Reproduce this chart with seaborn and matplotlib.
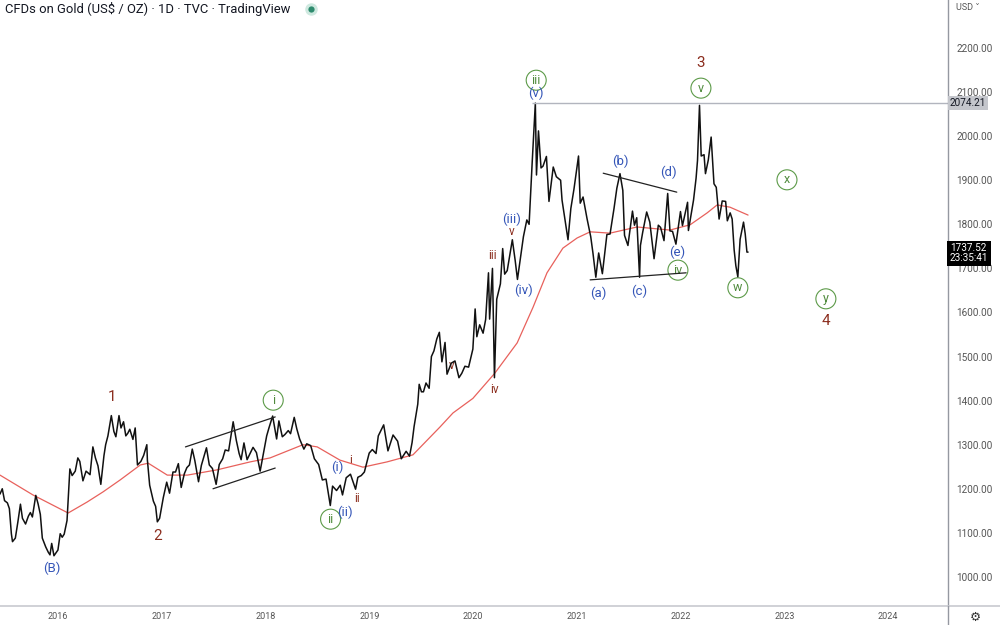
import matplotlib
matplotlib.use("Agg")
import matplotlib.pyplot as plt
from matplotlib.lines import Line2D
import pandas as pd
import seaborn as sns

# ---------------- data ----------------
price_dates = [
    "2015-06-10", "2015-06-18", "2015-06-26", "2015-07-06", "2015-07-13", "2015-07-20", "2015-07-24",
    "2015-08-03", "2015-08-12", "2015-08-21", "2015-08-28", "2015-09-08", "2015-09-18", "2015-09-25",
    "2015-10-02", "2015-10-14", "2015-10-22", "2015-10-30", "2015-11-06", "2015-11-18", "2015-11-27",
    "2015-12-03", "2015-12-09", "2015-12-17", "2015-12-31",
    "2016-01-08", "2016-01-15", "2016-01-22", "2016-02-01", "2016-02-11", "2016-02-19", "2016-03-01",
    "2016-03-10", "2016-03-17", "2016-03-28", "2016-04-08", "2016-04-22", "2016-05-02", "2016-05-11",
    "2016-05-20", "2016-05-30", "2016-06-10", "2016-06-16", "2016-06-24", "2016-07-06", "2016-07-15",
    "2016-07-22", "2016-08-02", "2016-08-09", "2016-08-18", "2016-08-26", "2016-09-02", "2016-09-09",
    "2016-09-20", "2016-09-28", "2016-10-06", "2016-10-18", "2016-10-28", "2016-11-08", "2016-11-10",
    "2016-11-18", "2016-12-01", "2016-12-09", "2016-12-15", "2016-12-23",
    "2017-01-05", "2017-01-17", "2017-01-27", "2017-02-08", "2017-02-17", "2017-02-27", "2017-03-09",
    "2017-03-20", "2017-03-29", "2017-04-07", "2017-04-17", "2017-04-26", "2017-05-09", "2017-05-19",
    "2017-06-06", "2017-06-16", "2017-06-27", "2017-07-10", "2017-07-21", "2017-08-02", "2017-08-11",
    "2017-08-23", "2017-09-01", "2017-09-08", "2017-09-19", "2017-09-29", "2017-10-06", "2017-10-16",
    "2017-10-27", "2017-11-08", "2017-11-17", "2017-11-29", "2017-12-12", "2017-12-22",
    "2018-01-04", "2018-01-12", "2018-01-25", "2018-02-08", "2018-02-16", "2018-02-28", "2018-03-09",
    "2018-03-21", "2018-03-29", "2018-04-11", "2018-04-20", "2018-04-30", "2018-05-15", "2018-05-25",
    "2018-06-08", "2018-06-21", "2018-07-06", "2018-07-19", "2018-08-01", "2018-08-16", "2018-08-24",
    "2018-09-07", "2018-09-20", "2018-09-28", "2018-10-11", "2018-10-26", "2018-11-13", "2018-11-21",
    "2018-12-03", "2018-12-14", "2018-12-31",
    "2019-01-11", "2019-01-24", "2019-02-01", "2019-02-20", "2019-03-07", "2019-03-25", "2019-04-10",
    "2019-04-23", "2019-05-10", "2019-05-22", "2019-05-31", "2019-06-07", "2019-06-20", "2019-06-25",
    "2019-07-03", "2019-07-10", "2019-07-19", "2019-07-30", "2019-08-07", "2019-08-16", "2019-08-26",
    "2019-09-04", "2019-09-13", "2019-09-24", "2019-10-01", "2019-10-16", "2019-10-29", "2019-11-12",
    "2019-11-22", "2019-12-03", "2019-12-16", "2019-12-31",
    "2020-01-08", "2020-01-14", "2020-01-24", "2020-02-05", "2020-02-14", "2020-02-24", "2020-02-28",
    "2020-03-09", "2020-03-16", "2020-03-24", "2020-04-06", "2020-04-14", "2020-04-21", "2020-04-30",
    "2020-05-18", "2020-05-28", "2020-06-05", "2020-06-16", "2020-06-26", "2020-07-08", "2020-07-16",
    "2020-07-27", "2020-08-06", "2020-08-07", "2020-08-11", "2020-08-18", "2020-08-27", "2020-09-03",
    "2020-09-15", "2020-09-24", "2020-10-09", "2020-10-20", "2020-11-04", "2020-11-09", "2020-11-30",
    "2020-12-10", "2020-12-21",
    "2021-01-06", "2021-01-12", "2021-01-22", "2021-02-05", "2021-02-18", "2021-02-26", "2021-03-08",
    "2021-03-18", "2021-03-31", "2021-04-16", "2021-04-27", "2021-05-11", "2021-05-21", "2021-06-01",
    "2021-06-11", "2021-06-17", "2021-06-29", "2021-07-15", "2021-07-22", "2021-07-30", "2021-08-09",
    "2021-08-12", "2021-08-20", "2021-09-03", "2021-09-14", "2021-09-29", "2021-10-14", "2021-10-22",
    "2021-11-03", "2021-11-16", "2021-11-24", "2021-12-03", "2021-12-15", "2021-12-31",
    "2022-01-07", "2022-01-14", "2022-01-25", "2022-01-28", "2022-02-09", "2022-02-15", "2022-02-24",
    "2022-03-01", "2022-03-08", "2022-03-14", "2022-03-24", "2022-03-29", "2022-04-08", "2022-04-18",
    "2022-04-28", "2022-05-06", "2022-05-16", "2022-05-27", "2022-06-08", "2022-06-14", "2022-06-24",
    "2022-07-01", "2022-07-08", "2022-07-14", "2022-07-21", "2022-07-29", "2022-08-10", "2022-08-16",
    "2022-08-22", "2022-08-26",
]
price_values = [
    1188, 1200, 1173, 1168, 1155, 1098, 1080,
    1088, 1125, 1165, 1133, 1120, 1138, 1146,
    1136, 1185, 1166, 1142, 1088, 1068, 1056,
    1050, 1076, 1048, 1061,
    1098, 1090, 1097, 1128, 1245, 1230, 1240,
    1270, 1262, 1218, 1240, 1232, 1295, 1270,
    1252, 1210, 1275, 1300, 1320, 1366, 1330,
    1318, 1366, 1338, 1352, 1320, 1326, 1335,
    1312, 1338, 1254, 1262, 1276, 1300, 1265,
    1208, 1172, 1160, 1125, 1133,
    1180, 1215, 1190, 1238, 1238, 1257, 1203,
    1234, 1248, 1254, 1290, 1264, 1216, 1253,
    1293, 1254, 1246, 1210, 1255, 1268, 1288,
    1286, 1324, 1352, 1310, 1280, 1266, 1304,
    1266, 1282, 1294, 1282, 1240, 1275,
    1320, 1338, 1365, 1313, 1354, 1318, 1323,
    1332, 1325, 1362, 1336, 1313, 1290, 1302,
    1298, 1268, 1255, 1220, 1222, 1162, 1206,
    1196, 1208, 1186, 1225, 1233, 1199, 1226,
    1230, 1238, 1281,
    1289, 1280, 1320, 1345, 1286, 1322, 1308,
    1268, 1285, 1274, 1305, 1341, 1392, 1437,
    1420, 1420, 1440, 1428, 1500, 1513, 1540,
    1555, 1488, 1532, 1460, 1485, 1490, 1452,
    1462, 1478, 1476, 1517,
    1608, 1545, 1572, 1553, 1584, 1690, 1585,
    1700, 1452, 1630, 1665, 1745, 1687, 1695,
    1765, 1718, 1675, 1726, 1772, 1810, 1800,
    1942, 2063, 2075, 1912, 2012, 1928, 1932,
    1954, 1852, 1930, 1908, 1900, 1855, 1765,
    1836, 1880,
    1955, 1848, 1862, 1813, 1772, 1734, 1680,
    1735, 1688, 1777, 1778, 1836, 1882, 1915,
    1877, 1775, 1752, 1830, 1798, 1815, 1680,
    1752, 1782, 1828, 1805, 1722, 1798, 1793,
    1763, 1870, 1785, 1784, 1755, 1829,
    1797, 1818, 1850, 1786, 1832, 1855, 1905,
    1945, 2070, 1955, 1958, 1915, 1946, 1998,
    1892, 1884, 1812, 1853, 1852, 1808, 1826,
    1812, 1742, 1706, 1681, 1766, 1805, 1778,
    1737, 1737,
]

ma_dates = [
    "2015-06-10", "2015-10-04", "2016-02-05", "2016-04-12", "2016-06-07", "2016-08-06", "2016-10-16",
    "2016-11-13", "2017-01-19", "2017-03-31", "2017-07-14", "2017-11-07", "2018-01-16", "2018-05-12",
    "2018-07-01", "2018-09-19", "2018-12-09", "2019-03-04", "2019-06-03", "2019-09-06", "2019-10-22",
    "2019-12-31", "2020-03-17", "2020-06-04", "2020-07-30", "2020-09-17", "2020-11-12", "2021-01-01",
    "2021-02-16", "2021-04-27", "2021-07-31", "2021-11-24", "2022-02-03", "2022-04-04", "2022-05-09",
    "2022-06-23", "2022-08-26",
]
ma_values = [
    1231, 1186, 1145, 1170, 1193, 1220, 1254,
    1258, 1231, 1231, 1243, 1261, 1270, 1300,
    1295, 1265, 1249, 1261, 1277, 1340, 1372,
    1405, 1462, 1531, 1612, 1690, 1746, 1769,
    1783, 1780, 1794, 1787, 1799, 1826, 1844,
    1839, 1821,
]

y_ticks = [1000, 1100, 1200, 1300, 1400, 1500, 1600, 1700, 1800, 1900, 2000, 2100, 2200]
x_tick_years = [2016, 2017, 2018, 2019, 2020, 2021, 2022, 2023, 2024]

last_high = 2074.21
last_high_date = "2020-08-07"
last_price = 1737.52
countdown = "23:35:41"

# wave labels: text, date, price, style
wave_text = ["(B)", "1", "2", "i", "ii", "(i)", "(ii)", "i", "ii", "iv", "iii", "v", "(iii)", "(iv)",
             "iii", "(v)", "3", "v", "(a)", "(b)", "(c)", "(d)", "(e)", "iv", "w", "x", "y", "4", "v"]
wave_date = ["2015-12-10", "2016-07-08", "2016-12-17", "2018-01-27", "2018-08-17", "2018-09-08",
             "2018-10-06", "2018-10-27", "2018-11-17", "2020-03-17", "2020-03-10", "2020-05-17",
             "2020-05-17", "2020-06-25", "2020-08-10", "2020-08-10", "2022-03-13", "2022-03-13",
             "2021-03-18", "2021-06-01", "2021-08-07", "2021-11-20", "2021-12-18", "2021-12-22",
             "2022-07-21", "2023-01-10", "2023-05-27", "2023-05-27", "2019-10-17"]
wave_price = [1020, 1408, 1093, 1401, 1131, 1249, 1147, 1265, 1177, 1426, 1730, 1784,
              1812, 1651, 2127, 2098, 2166, 2109, 1644, 1944, 1649, 1919, 1737, 1696,
              1656, 1901, 1631, 1581, 1480]
wave_style = ["blue", "redbig", "redbig", "circle", "circle", "blue", "blue", "red", "red", "red",
              "red", "red", "blue", "blue", "circle", "blue", "redbig", "circle", "blue", "blue",
              "blue", "blue", "blue", "circle", "circle", "circle", "circle", "redbig", "red"]

# trend lines: (start date, start price, end date, end price)
trend_start_dates = ["2017-03-24", "2017-06-29", "2021-04-03", "2021-02-16"]
trend_start_prices = [1295, 1200, 1916, 1674]
trend_end_dates = ["2018-02-03", "2018-02-03", "2021-12-18", "2022-01-20"]
trend_end_prices = [1363, 1247, 1873, 1690]

# ---------------- figure ----------------
sns.set_theme(style="white")
plt.rcParams["font.family"] = ["Roboto", "DejaVu Sans"]

fig = plt.figure(figsize=(10, 6.25), dpi=100)
ax = fig.add_axes([0.0, 19 / 625, 0.948, 606 / 625])

price_df = pd.DataFrame({"date": pd.to_datetime(price_dates), "price": price_values})
ma_df = pd.DataFrame({"date": pd.to_datetime(ma_dates), "ma": ma_values})

blue = "#3556b8"
red = "#8c2e1f"
green = "#4f8a3c"

# wave labels (drawn below the price line)
for t, d, p, s in zip(wave_text, wave_date, wave_price, wave_style):
    dd = pd.Timestamp(d)
    if s == "circle":
        ax.text(dd, p, t, color=green, fontsize=9, ha="center", va="center", zorder=1,
                bbox=dict(boxstyle="circle,pad=0.28", fc="white", ec="#5c9a48", lw=0.8))
    elif s == "blue":
        ax.text(dd, p, t, color=blue, fontsize=9.5, ha="center", va="center", zorder=1)
    elif s == "red":
        ax.text(dd, p, t, color=red, fontsize=8.5, ha="center", va="center", zorder=1)
    else:
        ax.text(dd, p, t, color=red, fontsize=11, ha="center", va="center", zorder=1)

sns.lineplot(data=ma_df, x="date", y="ma", ax=ax, color="#e8615c", linewidth=0.9, estimator=None)
sns.lineplot(data=price_df, x="date", y="price", ax=ax, color="#111111", linewidth=1.1, estimator=None)

x_left = pd.Timestamp("2015-06-10")
x_right = pd.Timestamp("2024-07-30")
ax.set_xlim(x_left, x_right)
ax.set_ylim(934, 2309)

# horizontal level
ax.hlines(last_high, pd.Timestamp(last_high_date) - pd.Timedelta(days=12), x_right,
          color="#b2b5be", linewidth=1.0)

# trend lines
for sd, sp, ed, ep in zip(trend_start_dates, trend_start_prices, trend_end_dates, trend_end_prices):
    ax.plot([pd.Timestamp(sd), pd.Timestamp(ed)], [sp, ep], color="#222222", linewidth=0.9)

# axes styling
ax.set_xlabel("")
ax.set_ylabel("")
for side in ["left", "top", "bottom"]:
    ax.spines[side].set_visible(False)
ax.spines["right"].set_color("#9598a1")
ax.spines["right"].set_linewidth(1.0)

ax.yaxis.tick_right()
ax.set_yticks(y_ticks)
ax.set_yticklabels([f"{v:.2f}" for v in y_ticks])
ax.tick_params(axis="y", length=0, pad=6, labelsize=7.2, labelcolor="#555555")
ax.set_xticks([pd.Timestamp(f"{y}-01-01") for y in x_tick_years])
ax.set_xticklabels([str(y) for y in x_tick_years])
ax.tick_params(axis="x", length=0, pad=4, labelsize=6.5, labelcolor="#555555")
ax.grid(False)

# price tags on the axis
ax.text(1.002, last_high, f"{last_high:.2f}", transform=ax.get_yaxis_transform(), ha="left",
        va="center", fontsize=7.2, color="#131722",
        bbox=dict(boxstyle="square,pad=0.2", fc="#c4c6cc", ec="none"))
ax.text(1.002, last_price - 3, f"{last_price:.2f}\n{countdown}", transform=ax.get_yaxis_transform(),
        ha="left", va="center", fontsize=7.2, color="white", linespacing=1.0,
        bbox=dict(boxstyle="square,pad=0.25", fc="black", ec="none"))

# frame lines of the widget
fig.add_artist(Line2D([0, 1], [19 / 625, 19 / 625], color="#c8cad0", linewidth=1.2,
                      transform=fig.transFigure))
fig.add_artist(Line2D([0.948, 0.948], [0, 19 / 625], color="#9598a1", linewidth=1.0,
                      transform=fig.transFigure))

# header
fig.text(0.005, 1 - 9 / 625, "CFDs on Gold (US$ / OZ) · 1D · TVC · TradingView", ha="left",
         va="center", fontsize=9.4, color="#131722")
fig.add_artist(Line2D([0.311], [1 - 9 / 625], marker="o", markersize=9, markerfacecolor="#cfe9e0",
                      markeredgecolor="none", transform=fig.transFigure))
fig.add_artist(Line2D([0.311], [1 - 9 / 625], marker="o", markersize=4.5, markerfacecolor="#2e8b6e",
                      markeredgecolor="none", transform=fig.transFigure))
fig.text(0.956, 1 - 7 / 625, "USD ˅", ha="left", va="center", fontsize=6.5, color="#555555")
fig.text(0.975, 8 / 625, "⚙", ha="center", va="center", fontsize=9, color="#333333")

fig.savefig("out.png", dpi=100)
